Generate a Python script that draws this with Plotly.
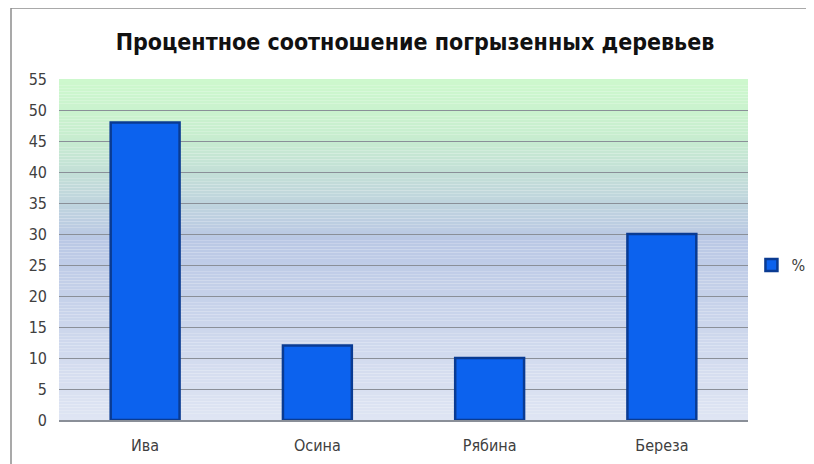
import plotly.graph_objects as go

# données
arbres = ["Ива", "Осина", "Рябина", "Береза"]
pourcent = [48, 12, 10, 30]
nom_serie = "%"
titre = "Процентное соотношение погрызенных деревьев"

# la page ajoute une marge de 8 px autour de la figure
D = 8
W, H = 814 - D, 464 - D
L, R, T, B = 59 - D, 814 - 748, 79 - D, 464 - 420
pw, ph = W - L - R, H - T - B

police = "Liberation Sans Narrow, DejaVu Sans Condensed, Arial Narrow, sans-serif"

fig = go.Figure()
fig.add_trace(go.Bar(
    x=arbres, y=pourcent, name=nom_serie, width=0.4,
    marker=dict(color="#0c62ee", line=dict(color="#0a3b92", width=2.5)),
    showlegend=True,
))

# fond en dégradé (vert en haut -> bleu -> clair en bas)
arrets = [(55, (205, 248, 205)), (46, (200, 238, 207)), (36, (192, 214, 220)),
          (29, (186, 200, 229)), (0, (223, 229, 243))]

def couleur(v):
    for (v1, c1), (v2, c2) in zip(arrets[:-1], arrets[1:]):
        if v2 <= v <= v1:
            t = (v1 - v) / (v1 - v2)
            c = [round(a + (b - a) * t) for a, b in zip(c1, c2)]
            return "rgb(%d,%d,%d)" % tuple(c)
    return "rgb(223,229,243)"

formes = []
n = 110
for i in range(n):
    y0 = 55 * i / n
    y1 = 55 * (i + 1) / n
    formes.append(dict(type="rect", xref="paper", yref="y", x0=0, x1=1, y0=y0, y1=y1,
                       fillcolor=couleur((y0 + y1) / 2), line=dict(width=0), layer="below"))

# cadre du graphique (bord gauche et haut)
fx = (11 - D - L) / pw
fy = (H - B - (8 - D)) / ph
formes.append(dict(type="line", xref="paper", yref="paper", x0=fx, x1=fx, y0=fy, y1=-0.5,
                   line=dict(color="#8c8c8c", width=1.5)))
formes.append(dict(type="line", xref="paper", yref="paper", x0=fx, x1=1.5, y0=fy, y1=fy,
                   line=dict(color="#8c8c8c", width=1.5)))

fig.update_layout(
    width=W, height=H,
    margin=dict(l=L, r=R, t=T, b=B, autoexpand=False),
    paper_bgcolor="white",
    plot_bgcolor="rgba(0,0,0,0)",
    shapes=formes,
    title=dict(text="<b>" + titre + "</b>", x=(415 - D) / W, xanchor="center",
               y=1 - (42 - D) / H, yanchor="middle",
               font=dict(family=police, size=23, color="#111111")),
    font=dict(family=police, size=16, color="#404040"),
    legend=dict(x=(748 - D - L) / pw + 0.005, xanchor="left", y=(420 - 265) / ph, yanchor="middle",
                font=dict(size=16, color="#404040"), bgcolor="rgba(0,0,0,0)"),
    bargap=0.6,
)
fig.update_yaxes(range=[0, 55], dtick=5, showgrid=True, gridcolor="#8a8f98", gridwidth=1,
                 zeroline=False, showline=False, ticks="", ticklen=0, ticklabelstandoff=11,
                 tickfont=dict(size=16, color="#404040"))
fig.update_xaxes(showline=True, linecolor="#8a8f98", linewidth=1.5, showgrid=False,
                 ticks="", ticklabelstandoff=10, tickfont=dict(size=16, color="#404040"))

fig.write_html("out.html")
